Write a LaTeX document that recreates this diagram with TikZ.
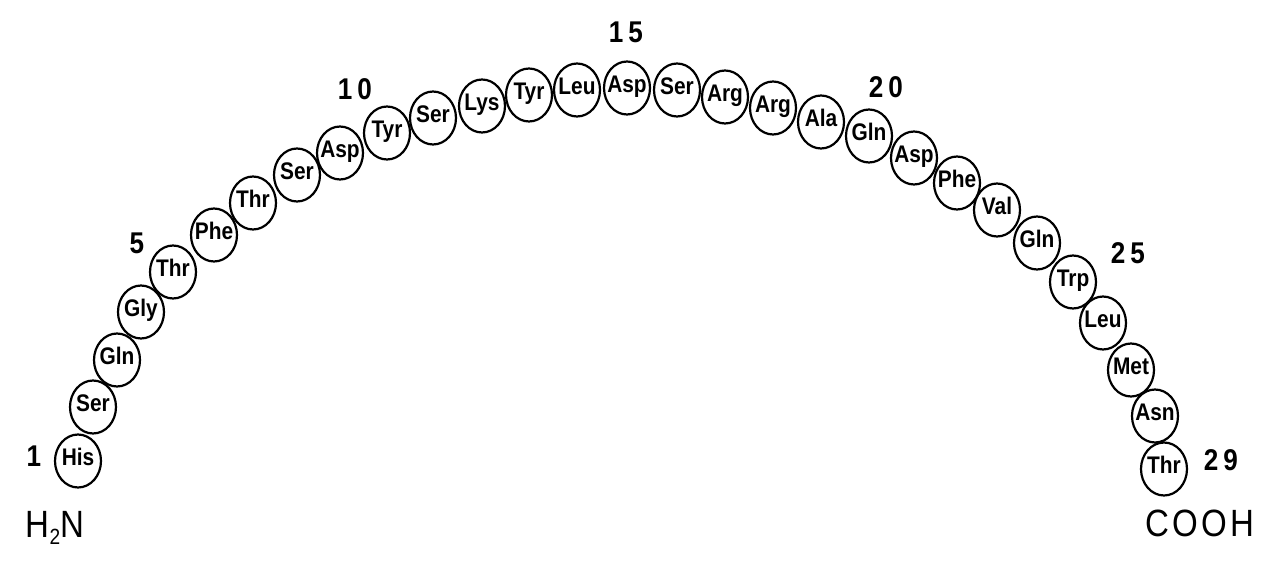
\documentclass[tikz,border=0pt]{standalone}
\usepackage{fontspec}
\usetikzlibrary{shapes.geometric}
\newfontfamily\af[FakeStretch=0.87]{Liberation Sans}
\newcommand\zw[1]{\makebox[0pt]{#1}}
\tikzset{
  res/.style={ellipse, draw, line width=2.2pt, minimum width=46pt, minimum height=53pt,
    inner sep=0pt, text height=17pt, text depth=8pt,
    font=\af\bfseries\fontsize{24}{24}\selectfont},
  num/.style={inner sep=0pt, text height=21pt, text depth=0pt,
    font=\af\bfseries\fontsize{30}{30}\selectfont},
  term/.style={inner sep=0pt, text height=27pt, text depth=0pt,
    font=\af\fontsize{38}{38}\selectfont}
}
\begin{document}
\begin{tikzpicture}[x=1pt,y=-1pt]
\useasboundingbox[fill=white] (0,0) rectangle (1280,580);
\foreach \i/\x/\y/\t in {
  1/78/461/His, 2/93/407/Ser, 3/117/360/Gln, 4/141/312/Gly, 5/173/272/Thr,
  6/214/235/Phe, 7/253/203/Thr, 8/297/175/Ser, 9/340/153/Asp, 10/387/133/Tyr,
  11/433/118/Ser, 12/482/106/Lys, 13/529/95/Tyr, 14/577/90/Leu, 15/627/88/Asp,
  16/677/90/Ser, 17/725/97/Arg, 18/773/108/Arg, 19/821/122/Ala, 20/869/136/Gln,
  21/914/158/Asp, 22/957/183/Phe, 23/997/210/Val, 24/1037/243/Gln, 25/1073/282/Trp,
  26/1103/323/Leu, 27/1131/370/Met, 28/1155/416/Asn, 29/1164/469/Thr}
  \node[res] (r\i) at (\x,\y) {\zw{\t}};
\node[num] (n1) at (34,456) {1};
\node[num] (n5) at (137,243) {5};
\node[num] (n10) at (355,89) {1\hspace{5pt}0};
\node[num] (n15) at (626,32) {1\hspace{5pt}5};
\node[num] (n20) at (886,87) {2\hspace{5pt}0};
\node[num] (n25) at (1128,253) {2\hspace{5pt}5};
\node[num] (n29) at (1221,460) {2\hspace{5pt}9};
\node[term] (nterm) at (55,524) {H\raisebox{-7pt}{\fontsize{22}{22}\selectfont 2}N};
\node[term] (cterm) at (1200,523) {C\hspace{3pt}O\hspace{3pt}O\hspace{3pt}H};
\end{tikzpicture}
\end{document}
